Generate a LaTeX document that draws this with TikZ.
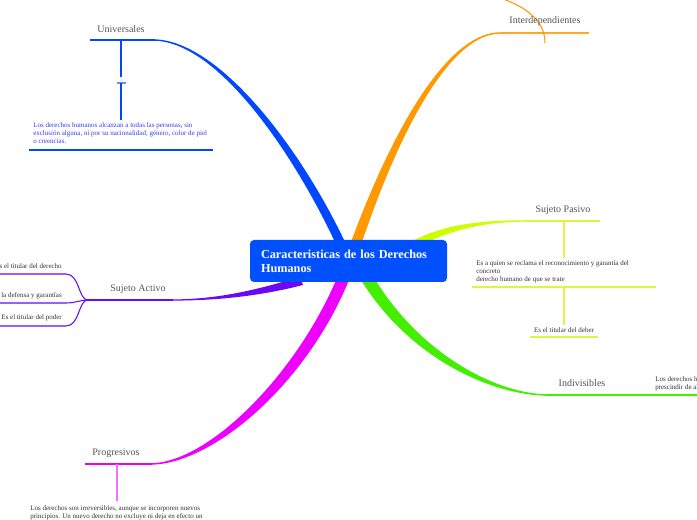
\documentclass[tikz,border=0pt]{standalone}
\usepackage{fontspec}
\setmainfont{Liberation Serif}

\definecolor{mainbox}{HTML}{0050FF}
\definecolor{uniblue}{HTML}{0048FF}
\definecolor{unitext}{HTML}{3A3AF0}
\definecolor{intorange}{HTML}{FF9900}
\definecolor{paslime}{HTML}{CCFF00}
\definecolor{paslight}{HTML}{DDF540}
\definecolor{indgreen}{HTML}{44EE00}
\definecolor{actpurple}{HTML}{6A0AF5}
\definecolor{progmag}{HTML}{EE00FF}
\definecolor{proglight}{HTML}{F070FF}
\definecolor{labelgray}{HTML}{555555}
\definecolor{notegray}{HTML}{333333}

\begin{document}
\begin{tikzpicture}[x=0.75pt, y=-0.75pt,
    branchlabel/.style={text=labelgray, font=\fontsize{7.5}{9}\selectfont, inner sep=0pt, anchor=base},
    notetext/.style={text=notegray, font=\fontsize{5.25}{6.2}\selectfont, inner sep=0pt, align=left},
    thinline/.style={line width=0.8pt}]
    \useasboundingbox (0,0) rectangle (697,520);
    \fill [white] (0,0) rectangle (697,520);
    \clip (0,0) rectangle (697,520);

    % Universales
    \coordinate (uniL) at (90,40);
    \coordinate (uniR) at (155,40);
    \fill [uniblue] (153,39.3) .. controls (218,39.3) and (300,147) .. (345,242) -- (335,242) .. controls (291,149) and (216,40.7) .. (153,40.7) -- cycle;
    \draw [uniblue, thinline] (uniL) -- (uniR);
    \node [branchlabel] (uni) at (121,33) {Universales};
    \coordinate (uniA) at (121,40);
    \coordinate (uniB) at (121,77);
    \coordinate (uniC) at (121,83);
    \coordinate (uniD) at (121,120);
    \draw [uniblue, thinline] (uniA) -- (uniB);
    \draw [uniblue!60, thinline] (117,83) -- (126,83);
    \draw [uniblue, thinline] (uniC) -- (uniD);
    \node [notetext, text=unitext, anchor=north west] (uninote) at (33,122) {Los derechos humanos alcanzan a todas las personas, sin\\exclusión alguna, ni por su nacionalidad, género, color de piel\\o creencias.};
    \draw [uniblue, line width=1.3pt] (29,150) -- (213,150);

    % Interdependientes
    \coordinate (intL) at (500,33);
    \coordinate (intR) at (589,33);
    \fill [intorange] (500,32.3) .. controls (452,32.3) and (398,115) .. (351,242) -- (362,242) .. controls (404,118) and (454,33.7) .. (500,33.7) -- cycle;
    \draw [intorange!85, thinline] (intL) -- (intR);
    \draw [intorange, thinline] (503,-1) .. controls (528,8) and (545,22) .. (545,43);
    \node [branchlabel] (inter) at (545,24) {Interdependientes};

    % Sujeto Pasivo
    \coordinate (pasL) at (525,221);
    \coordinate (pasR) at (600,221);
    \fill [paslime] (525,220.3) .. controls (478,220.3) and (440,225) .. (408,243.5) -- (411,250.5) .. controls (444,232) and (480,221.7) .. (525,221.7) -- cycle;
    \draw [paslight, thinline] (pasL) -- (pasR);
    \node [branchlabel] (pasivo) at (563,213) {Sujeto Pasivo};
    \draw [paslight, thinline] (564,221) -- (564,258);
    \node [notetext, anchor=north west] (pasnote) at (476,260) {Es a quien se reclama el reconocimiento y garantía del\\concreto\\derecho humano de que se trate};
    \draw [paslight, thinline] (472,287) -- (656,287);
    \draw [paslight, thinline] (564,287) -- (564,325);
    \node [notetext, anchor=base] (deber) at (564,333) {Es el titular del deber};
    \draw [paslight, thinline] (530,337) -- (598,337);

    % Indivisibles
    \coordinate (indL) at (545,395);
    \coordinate (indR) at (697,395);
    \fill [indgreen] (548,394.3) .. controls (498,394.3) and (420,355) .. (373,276) -- (361,280) .. controls (412,362) and (496,395.7) .. (548,395.7) -- cycle;
    \draw [indgreen, thinline] (indL) -- (indR);
    \node [branchlabel] (indiv) at (582,387) {Indivisibles};
    \node [notetext, anchor=north west] (indnote) at (655,376) {Los derechos humanos\\prescindir de alguno};

    % Sujeto Activo
    \coordinate (actL) at (88,300);
    \coordinate (actR) at (173,300);
    \fill [actpurple] (172,299.4) .. controls (222,299.4) and (262,288) .. (300,277) -- (303,285) .. controls (264,295) and (222,300.6) .. (172,300.6) -- cycle;
    \draw [actpurple, thinline] (actL) -- (actR);
    \node [branchlabel] (activo) at (138,292) {Sujeto Activo};
    \coordinate (actT) at (0,274);
    \coordinate (actM) at (0,303);
    \coordinate (actB) at (0,326);
    \draw [actpurple, thinline] (actL) .. controls (78,300) and (80,274) .. (66,274) -- (actT);
    \draw [actpurple, thinline] (actL) .. controls (80,300) and (76,303) .. (66,303) -- (actM);
    \draw [actpurple, thinline] (actL) .. controls (78,300) and (80,326) .. (66,326) -- (actB);
    \node [notetext, anchor=base east] (derecho) at (62,269) {Es el titular del derecho};
    \node [notetext, anchor=base east] (defensa) at (62,298) {la defensa y garantías};
    \node [notetext, anchor=base east] (poder) at (62,320) {Es el titular del poder};

    % Progresivos
    \coordinate (proL) at (85,464);
    \coordinate (proR) at (152,464);
    \fill [progmag] (150,463.3) .. controls (208,463.3) and (296,375) .. (337,278) -- (349,280) .. controls (306,385) and (212,464.7) .. (150,464.7) -- cycle;
    \draw [progmag, thinline] (proL) -- (proR);
    \node [branchlabel] (prog) at (116,456) {Progresivos};
    \draw [proglight, thinline] (117,464) -- (117,501);
    \node [notetext, anchor=north west] (prognote) at (30,505) {Los derechos son irreversibles, aunque se incorporen nuevos\\principios. Un nuevo derecho no excluye ni deja en efecto un};

    % centro
    \node [fill=mainbox, rounded corners=3pt, minimum width=147.75pt, minimum height=31.5pt,
        inner xsep=8.25pt, text width=131.25pt, align=left, text=white,
        font=\bfseries\fontsize{9.2}{10.5}\selectfont] (main) at (348.5,261) {Caracteristicas de los Derechos\\Humanos};
\end{tikzpicture}
\end{document}
